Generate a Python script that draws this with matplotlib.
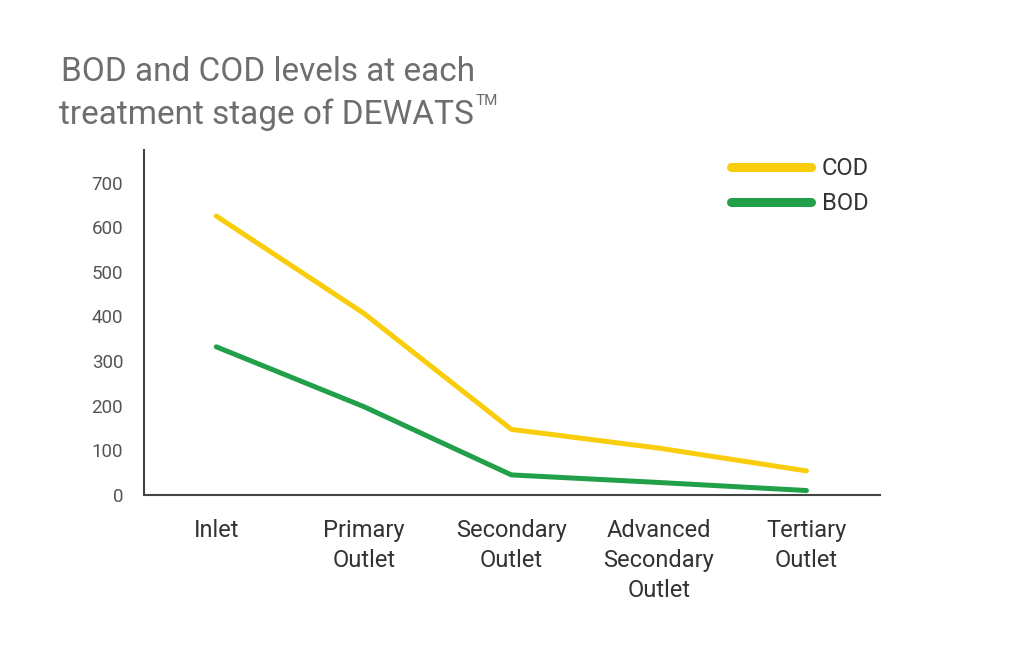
import numpy as np
import matplotlib
matplotlib.use('Agg')
from matplotlib import pyplot as plt

# data
stages = ['Inlet', 'Primary\nOutlet', 'Secondary\nOutlet', 'Advanced\nSecondary\nOutlet', 'Tertiary\nOutlet']
cod = [625, 407, 147, 105, 54]
bod = [332, 198, 45, 28, 10]
yticks = [0, 100, 200, 300, 400, 500, 600, 700]

plt.rcParams['font.family'] = ['Roboto', 'DejaVu Sans']

fig = plt.figure(figsize=(10.24, 6.49), dpi=100)
ax = fig.add_axes([0.1406, 0.2373, 0.719, 0.5316])

x = np.arange(len(stages))
ax.plot(x, cod, color='#F9CD0B', lw=3.6, solid_capstyle='round', solid_joinstyle='round', label='COD')
ax.plot(x, bod, color='#21A049', lw=3.6, solid_capstyle='round', solid_joinstyle='round', label='BOD')

ax.set_xlim(-0.49, 4.5)
ax.set_ylim(0, 773)
ax.set_yticks(yticks)
ax.set_xticks(x)
ax.set_xticklabels(stages, fontsize=17, color='#333333', linespacing=1.4)
ax.tick_params(axis='y', length=0, pad=15, labelsize=13.5, labelcolor='#555555')
ax.tick_params(axis='x', length=0, pad=17)

for s in ['top', 'right']:
    ax.spines[s].set_visible(False)
for s in ['left', 'bottom']:
    ax.spines[s].set_color('#444444')
    ax.spines[s].set_linewidth(1.5)

leg = ax.legend(loc='upper left', bbox_to_anchor=(731 / 1024, 1 - 157 / 649),
                bbox_transform=fig.transFigure, frameon=False, fontsize=17,
                handlelength=3.4, handletextpad=0.45, labelspacing=0.5,
                borderpad=0, borderaxespad=0)
for h in leg.get_lines():
    h.set_linewidth(6.5)
    h.set_solid_capstyle('round')
for t in leg.get_texts():
    t.set_color('#333333')

# title in two lines with a small TM mark
fig.text(61 / 1024, 1 - 81 / 649, 'BOD and COD levels at each', fontsize=24,
         color='#6e6e6e', va='baseline', ha='left')
t2 = fig.text(59 / 1024, 1 - 124 / 649, 'treatment stage of DEWATS', fontsize=24,
              color='#6e6e6e', va='baseline', ha='left')
fig.canvas.draw()
bb = t2.get_window_extent()
fig.text(bb.x1 / fig.bbox.width + 0.002, 1 - 105 / 649, 'TM', fontsize=11,
         color='#6e6e6e', va='baseline', ha='left')

fig.savefig('out.png', dpi=100)
